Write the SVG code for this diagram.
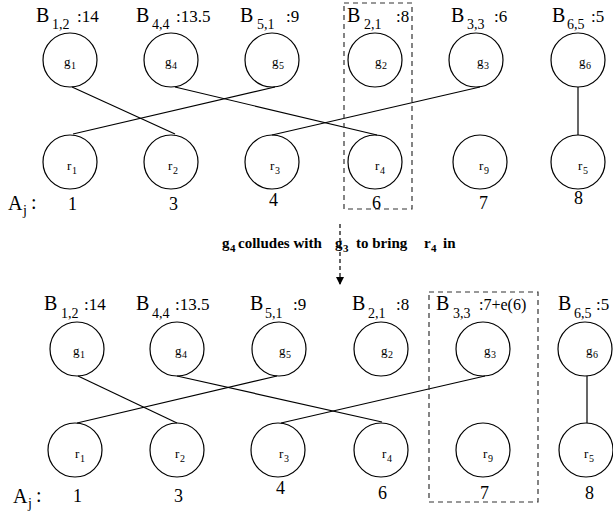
<svg xmlns="http://www.w3.org/2000/svg" width="613" height="512" viewBox="0 0 613 512">
<defs>
<style>
text{font-family:'Liberation Serif','DejaVu Serif','Times New Roman',serif;fill:#000}
.b{font-size:20px}
.s{font-size:14px}
.v{font-size:17px}
.n{font-size:13px}
.ns{font-size:10px}
.a{font-size:18px}
.m{font-size:15px;font-weight:bold}
.ms{font-size:11px;font-weight:bold}
circle{fill:none;stroke:#000;stroke-width:1.2}
line{stroke:#000;stroke-width:1.2}
.d{fill:none;stroke:#333;stroke-width:1.2;stroke-dasharray:5,4}
</style>
<marker id="ah" markerWidth="8" markerHeight="12" refX="7" refY="4" orient="auto" markerUnits="userSpaceOnUse" viewBox="0 0 8 8">
<path d="M0,0 L8,4 L0,8 Z" fill="#000"/>
</marker>
</defs>
<rect width="613" height="512" fill="#fff"/>

<g id="top-labels" font-family="Liberation Serif, serif">
<text class="b" x="36" y="22">B</text><text class="s" x="52" y="29">1,2</text><text class="v" x="77" y="22">:14</text>
<text class="b" x="136" y="22">B</text><text class="s" x="152" y="29">4,4</text><text class="v" x="176" y="22">:13.5</text>
<text class="b" x="240" y="22">B</text><text class="s" x="257" y="29">5,1</text><text class="v" x="286" y="22">:9</text>
<text class="b" x="347" y="22">B</text><text class="s" x="364" y="29">2,1</text><text class="v" x="396" y="22">:8</text>
<text class="b" x="451" y="22">B</text><text class="s" x="467" y="29">3,3</text><text class="v" x="494" y="22">:6</text>
<text class="b" x="552" y="22">B</text><text class="s" x="567" y="29">6,5</text><text class="v" x="591" y="22">:5</text>
</g>
<g id="top-g1"><circle cx="70" cy="60" r="27"/><text class="n" x="64" y="66">g</text><text class="ns" x="71" y="69">1</text></g>
<g id="top-g4"><circle cx="171" cy="60" r="27"/><text class="n" x="165" y="66">g</text><text class="ns" x="172" y="69">4</text></g>
<g id="top-g5"><circle cx="272" cy="60" r="27"/><text class="n" x="272" y="66">g</text><text class="ns" x="279" y="69">5</text></g>
<g id="top-g2"><circle cx="375" cy="60" r="27"/><text class="n" x="375" y="66">g</text><text class="ns" x="382" y="69">2</text></g>
<g id="top-g3"><circle cx="476" cy="60" r="27"/><text class="n" x="477" y="66">g</text><text class="ns" x="484" y="69">3</text></g>
<g id="top-g6"><circle cx="578" cy="60" r="27"/><text class="n" x="579" y="66">g</text><text class="ns" x="586" y="69">6</text></g>

<g id="top-r1"><circle cx="70" cy="162" r="27"/><text class="n" x="67" y="170">r</text><text class="ns" x="72" y="174">1</text></g>
<g id="top-r2"><circle cx="171" cy="162" r="27"/><text class="n" x="168" y="170">r</text><text class="ns" x="173" y="174">2</text></g>
<g id="top-r3"><circle cx="272" cy="162" r="27"/><text class="n" x="270" y="170">r</text><text class="ns" x="275" y="174">3</text></g>
<g id="top-r4"><circle cx="375" cy="162" r="27"/><text class="n" x="375" y="170">r</text><text class="ns" x="380" y="174">4</text></g>
<g id="top-r9"><circle cx="480" cy="162" r="27"/><text class="n" x="479" y="170">r</text><text class="ns" x="484" y="174">9</text></g>
<g id="top-r5"><circle cx="578" cy="162" r="27"/><text class="n" x="578" y="170">r</text><text class="ns" x="583" y="174">5</text></g>

<g id="top-connectors">
<line x1="72" y1="87" x2="175" y2="134"/>
<line x1="275" y1="87" x2="73" y2="134"/>
<line x1="175" y1="87" x2="377" y2="135"/>
<line x1="480" y1="87" x2="272" y2="135"/>
<line x1="578" y1="87" x2="578" y2="135"/>
</g>
<rect id="top-box" class="d" x="344" y="3" width="68" height="206"/>
<g id="top-aj">
<text class="b" x="8" y="210">A</text><text class="s" x="23" y="215">j</text><text class="b" x="31" y="209">:</text>
<text class="a" x="68" y="210">1</text>
<text class="a" x="169" y="210">3</text>
<text class="a" x="269" y="206">4</text>
<text class="a" x="372" y="209">6</text>
<text class="a" x="479" y="209">7</text>
<text class="a" x="574" y="204">8</text>
</g>

<g id="transition">
<line class="d" x1="340" y1="224" x2="340" y2="284" style="stroke:#000;stroke-dasharray:4,3" marker-end="url(#ah)"/>
<text class="m" x="222" y="248">g</text><text class="ms" x="230" y="252">4</text>
<text class="m" x="238" y="248">colludes with</text>
<text class="m" x="335" y="248">g</text><text class="ms" x="343" y="252">3</text>
<text class="m" x="356" y="248">to bring</text>
<text class="m" x="424" y="248">r</text><text class="ms" x="431" y="252">4</text>
<text class="m" x="443" y="248">in</text>
</g>

<g id="bot-labels">
<text class="b" x="44" y="310">B</text><text class="s" x="61" y="318">1,2</text><text class="v" x="84" y="310">:14</text>
<text class="b" x="136" y="310">B</text><text class="s" x="152" y="318">4,4</text><text class="v" x="175" y="310">:13.5</text>
<text class="b" x="250" y="310">B</text><text class="s" x="265" y="318">5,1</text><text class="v" x="293" y="310">:9</text>
<text class="b" x="352" y="310">B</text><text class="s" x="368" y="318">2,1</text><text class="v" x="396" y="310">:8</text>
<text class="b" x="436" y="310">B</text><text class="s" x="453" y="318">3,3</text><text class="v" x="479" y="310" style="font-size:16px">:7+e(6)</text>
<text class="b" x="558" y="310">B</text><text class="s" x="574" y="318">6,5</text><text class="v" x="596" y="310">:5</text>
</g>
<g id="bot-g1"><circle cx="77" cy="349" r="27"/><text class="n" x="73" y="355">g</text><text class="ns" x="80" y="358">1</text></g>
<g id="bot-g4"><circle cx="177" cy="349" r="27"/><text class="n" x="175" y="355">g</text><text class="ns" x="182" y="358">4</text></g>
<g id="bot-g5"><circle cx="279" cy="349" r="27"/><text class="n" x="279" y="355">g</text><text class="ns" x="286" y="358">5</text></g>
<g id="bot-g2"><circle cx="381" cy="349" r="27"/><text class="n" x="381" y="355">g</text><text class="ns" x="388" y="358">2</text></g>
<g id="bot-g3"><circle cx="483" cy="349" r="27"/><text class="n" x="484" y="355">g</text><text class="ns" x="491" y="358">3</text></g>
<g id="bot-g6"><circle cx="585" cy="349" r="27"/><text class="n" x="586" y="355">g</text><text class="ns" x="593" y="358">6</text></g>

<g id="bot-r1"><circle cx="75" cy="450" r="27"/><text class="n" x="75" y="458">r</text><text class="ns" x="80" y="462">1</text></g>
<g id="bot-r2"><circle cx="177" cy="450" r="27"/><text class="n" x="175" y="458">r</text><text class="ns" x="180" y="462">2</text></g>
<g id="bot-r3"><circle cx="278" cy="450" r="27"/><text class="n" x="279" y="458">r</text><text class="ns" x="284" y="462">3</text></g>
<g id="bot-r4"><circle cx="381" cy="450" r="27"/><text class="n" x="382" y="458">r</text><text class="ns" x="387" y="462">4</text></g>
<g id="bot-r9"><circle cx="483" cy="450" r="27"/><text class="n" x="483" y="458">r</text><text class="ns" x="488" y="462">9</text></g>
<g id="bot-r5"><circle cx="586" cy="450" r="27"/><text class="n" x="584" y="458">r</text><text class="ns" x="589" y="462">5</text></g>

<g id="bot-connectors">
<line x1="78" y1="376" x2="177" y2="423"/>
<line x1="277" y1="376" x2="77" y2="423"/>
<line x1="177" y1="376" x2="382" y2="422"/>
<line x1="485" y1="376" x2="281" y2="423"/>
<line x1="587" y1="376" x2="587" y2="423"/>
</g>
<rect id="bot-box" class="d" x="429" y="292" width="109" height="210"/>
<g id="bot-aj">
<text class="b" x="13" y="503">A</text><text class="s" x="28" y="508">j</text><text class="b" x="36" y="502">:</text>
<text class="a" x="73" y="502">1</text>
<text class="a" x="174" y="502">3</text>
<text class="a" x="276" y="494">4</text>
<text class="a" x="378" y="499">6</text>
<text class="a" x="480" y="499">7</text>
<text class="a" x="585" y="499">8</text>
</g>
</svg>
